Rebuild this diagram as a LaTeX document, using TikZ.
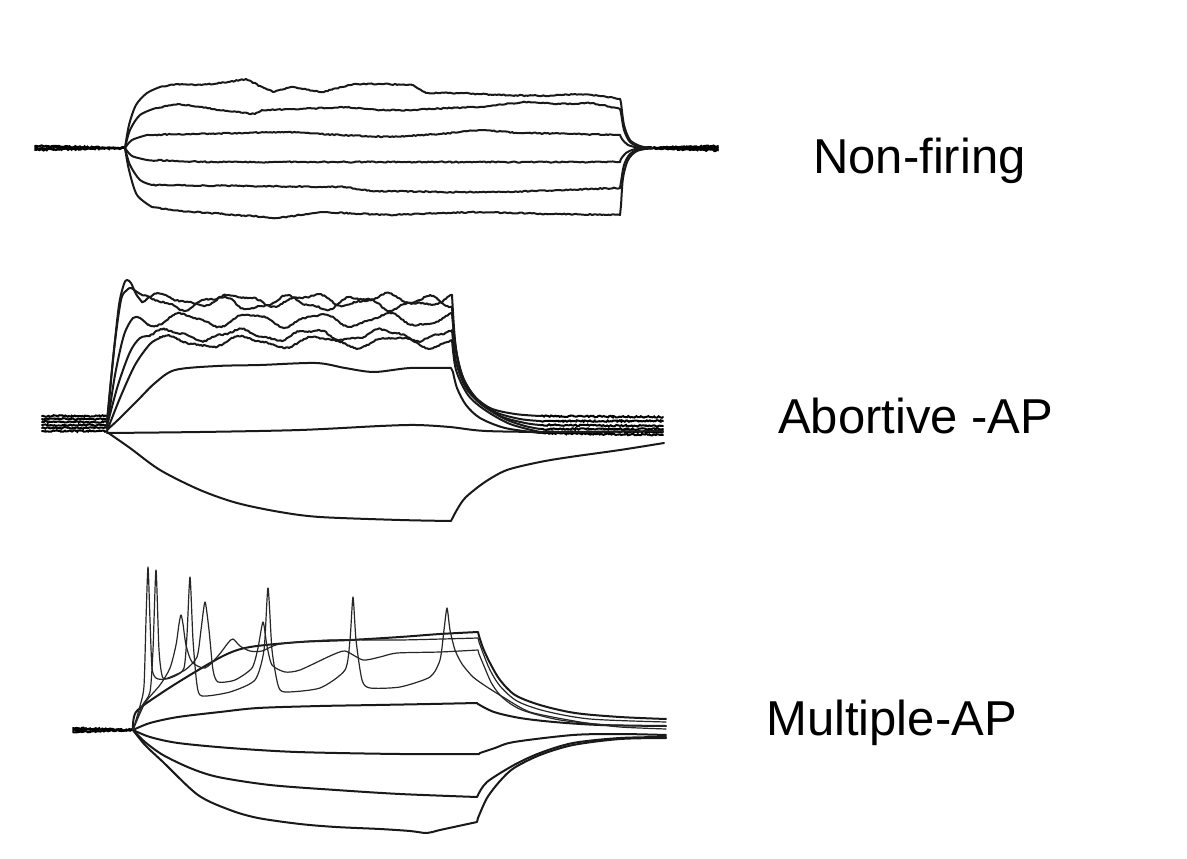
\documentclass[tikz,border=0pt]{standalone}
\usepackage{fontspec}
\setmainfont{Liberation Sans}
\usetikzlibrary{decorations.pathmorphing}
\begin{document}
\begin{tikzpicture}[x=1pt,y=-1pt,
  tr/.style={line width=2.0pt, black!90, line join=round, line cap=round},
  trn/.style={tr, decorate, decoration={random steps, segment length=2pt, amplitude=0.6pt}},
  sp/.style={line width=1.2pt, black!85, line join=round, line cap=round},
  base/.style={line width=2pt, black, line cap=round, decorate, decoration={random steps, segment length=1.5pt, amplitude=0.8pt}},
  lab/.style={font=\fontsize{49}{58}\selectfont, inner sep=0pt, anchor=base west}]
\pgfmathsetseed{7}
\useasboundingbox[fill=white] (0,0) rectangle (1187,859);

% ================= Panel 1 : Non-firing =================
\foreach \yy in {146,148,150} {
  \draw[base] (35,\yy) -- (125,148);
}
\foreach \yy in {146,147.5,149,150.5} {
  \draw[base] (645,148) -- (718,\yy);
}
% trace 1
\draw[tr] plot[smooth,tension=0.5] coordinates {(125,148) (129,125) (136,105) (147,93) (160,87)};
\draw[trn] plot coordinates {(160,87) (178,84) (201,85) (228,82) (246,79) (260,86) (273,92) (291,87) (322,92) (354,84) (381,84) (412,85) (426,93) (457,93) (502,95) (547,96) (575,94) (592,95) (620,99)};
\draw[tr] plot[smooth,tension=0.5] coordinates {(620,99) (621,103) (624,125) (630,140) (640,146) (650,148)};
% trace 2
\draw[tr] plot[smooth,tension=0.5] coordinates {(125,148) (130,130) (140,115) (156,108)};
\draw[trn] plot coordinates {(156,108) (178,104) (200,107) (219,110) (255,114) (262,110) (300,109) (345,107) (380,110) (413,110) (450,108) (480,107) (525,102) (560,104) (592,103) (620,109)};
\draw[tr] plot[smooth,tension=0.5] coordinates {(620,109) (621,113) (624,130) (630,142) (640,147) (650,148)};
% trace 3
\draw[tr] plot[smooth,tension=0.5] coordinates {(125,148) (132,140) (147,135)};
\draw[trn] plot coordinates {(147,135) (187,134) (240,133) (286,132) (340,135) (390,137) (440,134) (480,130) (520,133) (570,134) (620,135)};
\draw[tr] plot[smooth,tension=0.5] coordinates {(620,135) (622,139) (628,145) (640,148) (650,148)};
% trace 4
\draw[tr] plot[smooth,tension=0.5] coordinates {(125,148) (132,156) (147,160)};
\draw[trn] plot coordinates {(147,160) (210,162) (300,162) (400,162) (500,162) (620,162)};
\draw[tr] plot[smooth,tension=0.5] coordinates {(620,162) (621,159) (626,153) (635,149) (650,148)};
% trace 5
\draw[tr] plot[smooth,tension=0.5] coordinates {(125,148) (130,165) (140,180) (152,185)};
\draw[trn] plot coordinates {(152,185) (250,186) (345,187) (372,191) (450,192) (502,192) (560,190) (620,188)};
\draw[tr] plot[smooth,tension=0.5] coordinates {(620,188) (621,182) (624,165) (630,154) (640,149) (652,148)};
% trace 6
\draw[tr] plot[smooth,tension=0.5] coordinates {(125,148) (129,170) (137,195) (152,207)};
\draw[trn] plot coordinates {(152,207) (180,211) (210,213) (278,218) (300,215) (322,212) (390,215) (440,213) (480,212) (550,214) (620,215)};
\draw[tr] plot[smooth,tension=0.5] coordinates {(620,215) (621,205) (623,178) (628,160) (637,151) (652,148)};

% ================= Panel 2 : Abortive -AP =================
\foreach \yy in {416,419,422,425,428,431} {
  \draw[base] (42,\yy) -- (107,\yy);
}
\draw[base] (540,416) -- (663,417);
\draw[base] (540,421) -- (663,421);
\draw[base] (540,425) -- (663,426);
\draw[base] (540,429) -- (663,429);
\draw[base] (540,432) -- (663,432);
\draw[base] (540,433) -- (663,435);
% A
\draw[tr] plot[smooth,tension=0.5] coordinates {(107,424) (113,360) (119,305) (124,284) (127,280) (131,283) (136,294) (142,302)}
  -- plot[domain=142:452,samples=200] (\x,{300-5*sin((\x-142)*4.8)+2*sin((\x-100)*10.909)+0.7*rand})
  -- plot[smooth,tension=0.5] coordinates {(452,295) (455,340) (460,370) (470,392) (490,408) (515,414) (540,416)};
% B
\draw[tr] plot[smooth,tension=0.5] coordinates {(107,421) (114,350) (121,300) (127,290) (131,288) (137,292) (143,295.5)}
  -- plot[domain=143:452,samples=200] (\x,{303+6*sin((\x-165)*5.143)+2*sin((\x-120)*12.414)+0.7*rand})
  -- plot[smooth,tension=0.5] coordinates {(452,307) (455,345) (462,375) (475,397) (495,412) (520,419) (540,421)};
% C
\draw[tr] plot[smooth,tension=0.5] coordinates {(107,428) (115,375) (124,335) (133,318) (140,318) (148,325)}
  -- plot[domain=148:452,samples=200] (\x,{320+6*sin((\x-200)*5.294)+1.5*sin((\x-90)*11.613)+0.7*rand})
  -- plot[smooth,tension=0.5] coordinates {(452,313) (456,350) (464,380) (478,400) (500,416) (525,423) (540,425)};
% D
\draw[tr] plot[smooth,tension=0.5] coordinates {(107,426) (118,385) (130,352) (140,338) (150,336)}
  -- plot[domain=150:452,samples=200] (\x,{335+5*sin((\x-185)*5)+1.5*sin((\x-60)*13.333)+0.7*rand})
  -- plot[smooth,tension=0.5] coordinates {(452,330) (456,362) (466,388) (482,405) (505,419) (525,426) (540,429)};
% E
\draw[tr] plot[smooth,tension=0.5] coordinates {(107,431) (120,398) (135,365) (150,344) (160,338)}
  -- plot[domain=160:452,samples=200] (\x,{342-5*sin((\x-150)*4.8)+1.5*sin((\x-70)*10.286)+0.7*rand})
  -- plot[smooth,tension=0.5] coordinates {(452,340) (456,370) (468,395) (485,410) (510,424) (540,432)};
% F
\draw[tr] plot[smooth,tension=0.5] coordinates {(107,430) (120,418) (138,400) (155,383) (175,370) (217,366) (260,365) (316,363) (345,368) (374,372) (410,368) (451,368)}
  -- plot[smooth,tension=0.5] coordinates {(453,372) (457,388) (466,405) (480,418) (505,428) (540,433)};
% G (near flat)
\draw[tr] plot[smooth,tension=0.5] coordinates {(107,433) (200,432) (300,430) (380,426) (416,425) (450,427) (486,431) (560,432) (663,431)};
% H (hyperpolarised)
\draw[tr] plot[smooth,tension=0.5] coordinates {(107,432) (130,448) (160,470) (200,490) (237,503) (280,512) (320,517) (400,520) (451,521)}
  -- plot[smooth,tension=0.5] coordinates {(452,519) (458,508) (466,497) (485,482) (507,470) (540,462) (570,457) (620,450) (664,443)};

% ================= Panel 3 : Multiple-AP =================
\foreach \yy in {728,730,732} {
  \draw[base] (73,\yy) -- (133,730);
}
% hyperpolarising
\draw[tr] plot[smooth,tension=0.5] coordinates {(133,730) (150,737) (178,743) (230,748) (297,752) (400,754) (479,754)}
  -- plot[smooth,tension=0.5] coordinates {(480,753) (495,748) (514,742) (573,735) (620,734) (666,735)};
\draw[tr] plot[smooth,tension=0.5] coordinates {(133,730) (145,742) (163,755) (190,768) (218,777) (270,785) (336,790) (400,794) (477,797)}
  -- plot[smooth,tension=0.5] coordinates {(478,795) (487,782) (514,765) (540,753) (573,743) (620,738) (666,737)};
\draw[tr] plot[smooth,tension=0.5] coordinates {(133,730) (145,745) (163,762) (198,795) (230,810) (258,818) (300,824) (336,827) (380,829) (410,831) (427,833) (440,830) (477,822)}
  -- plot[smooth,tension=0.5] coordinates {(478,818) (487,798) (500,781) (514,768) (540,755) (573,745) (620,739) (666,738)};
% depolarising, no spike
\draw[tr] plot[smooth,tension=0.5] coordinates {(133,730) (150,723) (178,717) (220,712) (258,708) (320,706) (376,705) (430,704) (477,703)}
  -- plot[smooth,tension=0.5] coordinates {(478,704) (494,712) (520,718) (554,722) (600,725) (666,726)};
% P1 smooth plateau
\draw[tr] plot[smooth,tension=0.5] coordinates {(133,730) (136,712) (160,694) (190,675) (225,655) (250,647) (300,642) (350,640) (400,637) (440,634) (478,632)}
  -- plot[smooth,tension=0.5] coordinates {(479,636) (483,648) (490,663) (500,680) (515,695) (540,705) (575,713) (620,717) (666,719)};
% S3: spike + hump
\draw[sp] plot[smooth,tension=0.45] coordinates {(133,730) (145,703) (160,685) (170,668) (176,645) (179,624) (181,615) (183,624) (186,645) (192,662) (205,668) (218,656) (228,643) (233,639) (240,646) (250,651) (262,651) (280,644) (330,640) (400,640) (478,638)}
  -- plot[smooth,tension=0.5] coordinates {(479,642) (483,653) (490,670) (500,686) (517,701) (545,711) (590,719) (666,722)};
% S2: three spikes
\draw[sp] plot[smooth,tension=0.4] coordinates {(133,730) (140,706) (144,686) (146,620) (148,567) (150,620) (152,668) (156,678) (165,679) (185,670) (197,657) (201,630) (205,602) (209,630) (213,670) (218,682) (235,680) (252,668) (258,648) (263,622) (267,646) (272,665) (285,672) (300,670) (330,656) (345,651) (363,660) (380,657) (397,653) (440,652) (478,650)}
  -- plot[smooth,tension=0.5] coordinates {(479,654) (484,666) (492,684) (503,698) (522,710) (560,720) (610,725) (666,726)};
% S1: five spikes, deep troughs
\draw[sp] plot[smooth,tension=0.4] coordinates {(133,730) (142,706) (150,692) (153,650) (156,570) (159,650) (163,678) (175,676) (184,668) (187,635) (190,577) (193,640) (197,685) (202,696) (230,692) (255,680) (264,650) (268,588) (272,650) (278,685) (285,692) (320,688) (345,670) (350,640) (353,597) (356,640) (362,680) (370,688) (400,687) (430,677) (440,660) (444,630) (447,608) (450,630) (455,650) (462,664) (473,677) (487,687) (503,697) (530,712) (580,722) (620,727) (666,729)};

% ================= Labels =================
\node[lab] (nf) at (813,173) {Non-firing};
\node[lab] (ab) at (778,433) {Abortive -AP};
\node[lab] (mu) at (766,735) {Multiple-AP};
\end{tikzpicture}
\end{document}
